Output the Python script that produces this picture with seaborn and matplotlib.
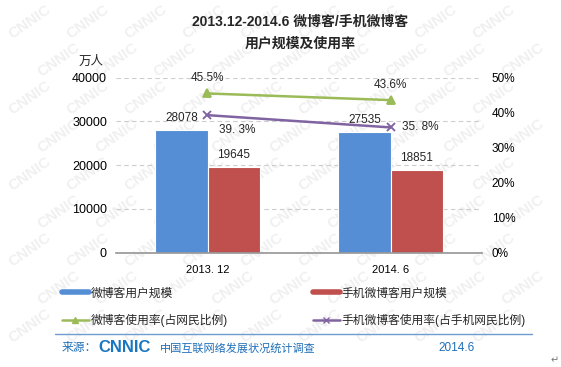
import matplotlib
matplotlib.use('Agg')
import matplotlib.pyplot as plt
import seaborn as sns
import pandas as pd
from matplotlib.lines import Line2D
from matplotlib.ticker import PercentFormatter

# data
periods = ['2013. 12', '2014. 6']
weibo_users = [28078, 27535]
mobile_weibo_users = [19645, 18851]
weibo_rate = [0.455, 0.436]
mobile_weibo_rate = [0.393, 0.358]
weibo_rate_text = ['45.5%', '43.6%']
mobile_rate_text = ['39. 3%', '35. 8%']
series_names = ['微博客用户规模', '手机微博客用户规模',
                '微博客使用率(占网民比例)', '手机微博客使用率(占手机网民比例)']

blue, red, green, purple = '#558ED5', '#C0504D', '#9BBB59', '#8064A2'
src_blue = '#1F6FB8'

df = pd.DataFrame({
    'period': periods * 2,
    'users': weibo_users + mobile_weibo_users,
    'series': [series_names[0]] * 2 + [series_names[1]] * 2,
})

sns.set_theme(style='white')
plt.rcParams['font.family'] = ['Liberation Sans', 'Noto Sans CJK SC', 'DejaVu Sans']

W, H = 561, 367
fig = plt.figure(figsize=(W / 100, H / 100), dpi=100)

# faint CNNIC watermark behind everything (kept inside the frame)
for row in range(0, 10):
    for col in range(0, 11):
        x = col * 58 + (row % 2) * 29 + 30
        y = row * 38 + 22
        if x > W - 30 or y > H - 22:
            continue
        fig.text(x / W, 1 - y / H, 'CNNIC', rotation=35, color='#f0f0f0',
                 fontsize=11, fontweight='bold', ha='center', va='center',
                 zorder=-10)

ax = fig.add_axes([116 / W, 1 - 252.7 / H, (482 - 116) / W, (252.7 - 77.7) / H])
ax.set_facecolor('none')

sns.barplot(data=df, x='period', y='users', hue='series',
            palette=[blue, red], saturation=1, width=0.57, gap=0,
            edgecolor='white', linewidth=0.8, legend=False, ax=ax, zorder=2)

ax.set_ylim(0, 40000)
ax.set_yticks(range(0, 40001, 10000))
ax.set_xlabel('')
ax.set_ylabel('')
ax.yaxis.grid(True, linestyle=(0, (4, 3)), color='#cccccc', linewidth=0.8)
ax.set_axisbelow(True)
for s in ['top', 'left', 'right']:
    ax.spines[s].set_visible(False)
ax.spines['bottom'].set_color('#999999')
ax.set_xticks([-0.5, 0.5, 1.5], minor=True)
ax.tick_params(axis='x', which='major', length=0, pad=9, labelsize=8, colors='black')
ax.tick_params(axis='x', which='minor', length=4, width=0.8, color='#999999', direction='out')
ax.tick_params(axis='y', length=0, pad=6.5, labelsize=9, colors='black')

for cont in ax.containers:
    ax.bar_label(cont, padding=4.5, fontsize=8.5)

ax2 = ax.twinx()
sns.pointplot(x=periods, y=weibo_rate, ax=ax2, color=green, markers='^',
              markersize=6, linewidth=1.8, errorbar=None)
sns.pointplot(x=periods, y=mobile_weibo_rate, ax=ax2, color=purple, markers='x',
              markersize=6, linewidth=1.8, errorbar=None)
ax2.set_ylim(0, 0.5)
ax2.set_yticks([0, 0.1, 0.2, 0.3, 0.4, 0.5])
ax2.yaxis.set_major_formatter(PercentFormatter(1, decimals=0))
ax2.tick_params(axis='y', length=0, pad=7, labelsize=8.5, colors='black')
ax2.set_ylabel('')
ax2.grid(False)
for s in ax2.spines.values():
    s.set_visible(False)

# rate labels
for i, t in enumerate(weibo_rate_text):
    ax2.annotate(t, (i, weibo_rate[i]), xytext=(0, 11), textcoords='offset points',
                 ha='center', va='center', fontsize=8.5)
mobile_offsets = [(8.5, -11), (8, 0)]
for i, t in enumerate(mobile_rate_text):
    ax2.annotate(t, (i, mobile_weibo_rate[i]), xytext=mobile_offsets[i],
                 textcoords='offset points', ha='left', va='center', fontsize=8.5)

# titles
fig.text(300 / W, 1 - 21.7 / H, '2013.12-2014.6 微博客/手机微博客', ha='center',
         va='center', fontsize=10, fontweight='bold')
fig.text(300 / W, 1 - 43.3 / H, '用户规模及使用率', ha='center', va='center',
         fontsize=10, fontweight='bold')
fig.text(91 / W, 1 - 62.3 / H, '万人', ha='center', va='center', fontsize=9)

# legend below the chart
handles = [
    Line2D([], [], color=blue, lw=4),
    Line2D([], [], color=green, lw=1.8, marker='^', markersize=5),
    Line2D([], [], color=red, lw=4),
    Line2D([], [], color=purple, lw=1.8, marker='x', markersize=5),
]
labels = [series_names[0], series_names[2], series_names[1], series_names[3]]
fig.legend(handles, labels, ncol=2, loc='upper left',
           bbox_to_anchor=(61.7 / W, 1 - 287.5 / H), frameon=False, fontsize=8.5,
           handlelength=2.3, handletextpad=0.15, columnspacing=7.2,
           labelspacing=1.25, borderaxespad=0, borderpad=0)

# source line
fig.add_artist(Line2D([55 / W, 532 / W], [1 - 334 / H] * 2, color='#6E9BD0',
                      lw=1, transform=fig.transFigure))
fig.text(61.7 / W, 1 - 348 / H, '来源：', color=src_blue, fontsize=8.5, va='center')
fig.text(98 / W, 1 - 348 / H, 'CNNIC', color='#1976C0', fontsize=12,
         fontweight='bold', va='center')
fig.text(160 / W, 1 - 348 / H, '中国互联网络发展状况统计调查', color=src_blue,
         fontsize=8, va='center')
fig.text(438 / W, 1 - 348 / H, '2014.6', color=src_blue, fontsize=8.5, va='center')
fig.text(555 / W, 1 - 360 / H, '↵', color='#777777', fontsize=7, va='center',
         ha='center')

fig.savefig('out.png', dpi=100)
